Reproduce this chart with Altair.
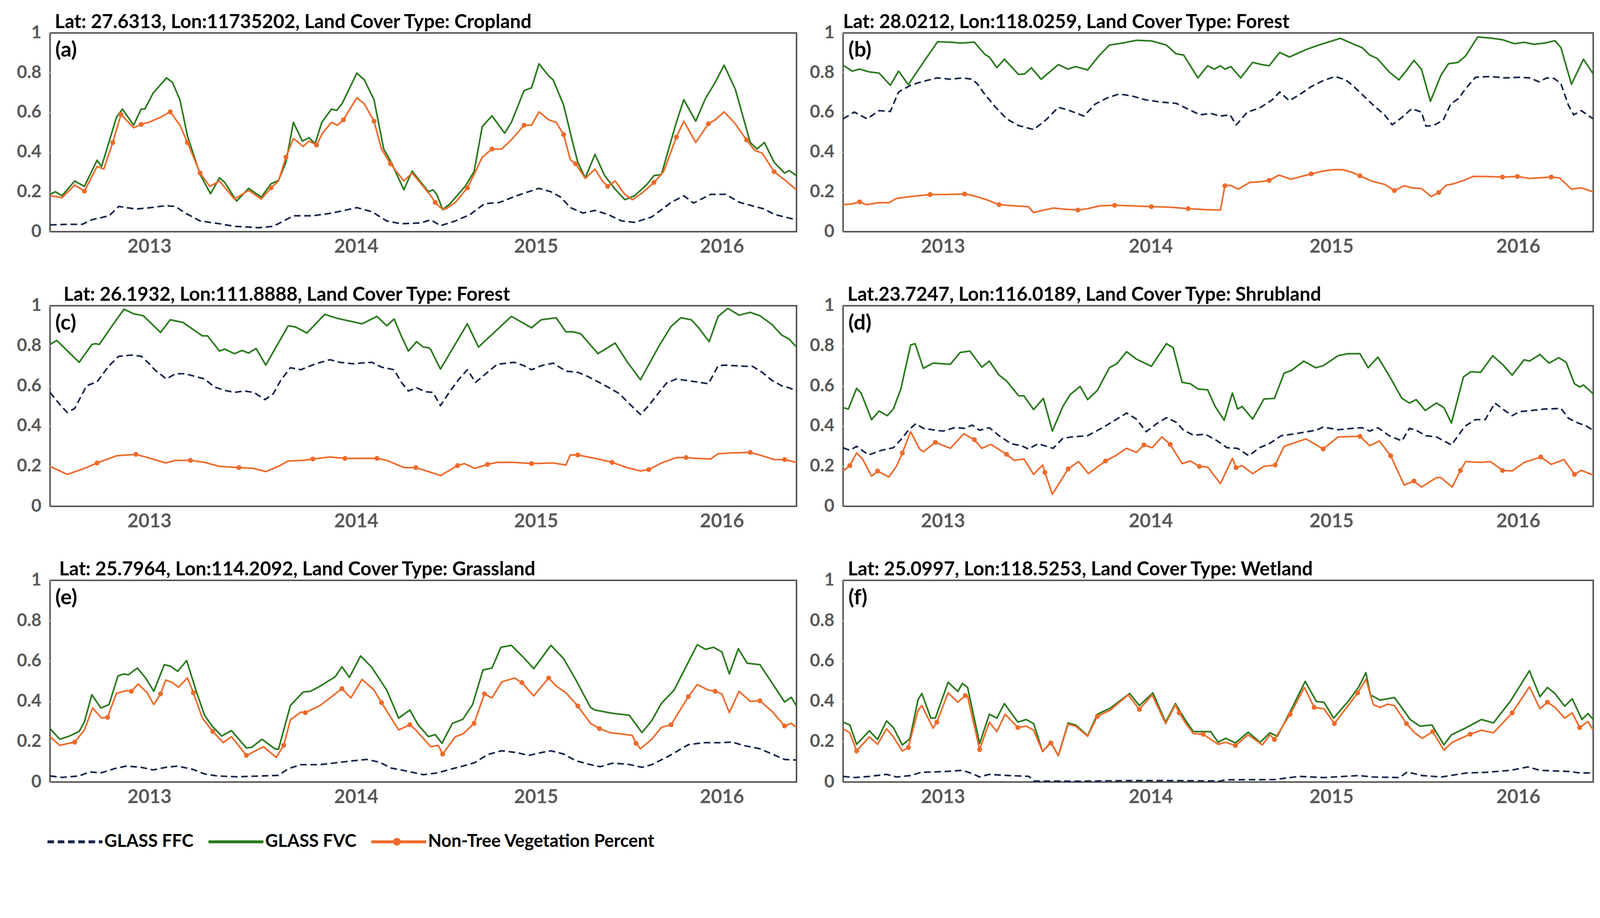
import altair as alt
import pandas as pd

SERIES = ["GLASS FFC", "GLASS FVC", "Non-Tree Vegetation Percent"]
COLORS = ["#15264a", "#2b7a1f", "#ee6b2c"]
DASHES = [[18, 10], [1, 0], [1, 0]]
YEAR_TICKS = [13.3, 41.0, 65.1, 90.0]
YEAR_LABELS = ["2013", "2014", "2015", "2016"]
Y_TICKS = [0, 0.2, 0.4, 0.6, 0.8, 1]
FONT = "Lato"

# ---------------- panel (a) ----------------
a_title = "Lat: 27.6313, Lon:11735202, Land Cover Type: Cropland"
a_fvc = [(0,.188),(0.7,.201),(1.6,.181),(3.3,.255),(4.6,.228),(6.3,.359),(6.9,.328),(8.9,.576),(9.7,.617),(11.2,.536),(12.2,.617),(12.7,.617),(13.8,.697),(15.6,.774),(16.4,.751),(17.4,.664),(18.4,.483),(20.1,.288),(21.5,.191),(22.7,.271),(23.4,.248),(25.0,.154),(26.6,.218),(28.3,.174),(29.6,.241),(30.6,.258),(31.6,.349),(32.6,.550),(33.8,.456),(34.7,.473),(35.5,.442),(36.4,.550),(37.7,.617),(38.4,.610),(39.1,.643),(41.1,.798),(42.1,.764),(43.4,.664),(44.7,.416),(45.7,.349),(47.4,.211),(48.5,.305),(49.7,.248),(50.7,.201),(51.3,.211),(51.8,.188),(52.6,.111),(53.6,.141),(55.6,.228),(56.8,.302),(57.9,.529),(59.2,.583),(60.9,.496),(61.8,.550),(63.5,.710),(64.5,.724),(65.5,.845),(66.8,.784),(67.4,.764),(68.8,.637),(70.1,.436),(70.7,.349),(71.7,.271),(73.0,.389),(74.3,.282),(75.7,.214),(77.0,.161),(78.3,.181),(79.9,.235),(80.9,.282),(81.9,.288),(83.9,.550),(84.9,.664),(86.5,.556),(87.8,.670),(89.1,.751),(90.3,.838),(91.8,.717),(93.8,.449),(94.7,.416),(95.7,.449),(97.0,.349),(98.4,.295),(99.0,.308),(100,.282)]
a_ntv = [(0,.181),(1.6,.171),(3.3,.235),(4.6,.204),(6.3,.328),(7.2,.315),(8.4,.449),(9.5,.590),(11.2,.523),(12.2,.540),(13.2,.550),(14.8,.576),(16.1,.603),(17.4,.536),(18.4,.449),(20.1,.295),(21.4,.228),(22.7,.255),(24.7,.164),(26.6,.208),(28.3,.164),(29.6,.221),(30.6,.255),(31.6,.375),(32.6,.469),(33.9,.429),(34.7,.456),(35.7,.436),(36.5,.496),(37.7,.550),(38.5,.536),(39.3,.563),(41.1,.674),(42.1,.643),(43.4,.556),(44.4,.416),(45.6,.342),(47.4,.255),(48.5,.295),(49.7,.241),(51.0,.181),(51.6,.147),(52.3,.121),(53.0,.114),(54.3,.147),(55.9,.221),(56.9,.295),(57.9,.375),(59.2,.416),(60.5,.416),(61.8,.462),(63.5,.536),(64.5,.536),(65.5,.603),(66.8,.563),(67.8,.550),(68.8,.489),(69.7,.362),(70.4,.342),(71.7,.268),(73.0,.315),(74.0,.255),(74.7,.228),(75.7,.255),(77.0,.188),(78.0,.161),(79.3,.194),(80.9,.248),(82.2,.302),(83.9,.476),(84.9,.556),(86.5,.449),(88.2,.543),(89.1,.563),(90.3,.603),(91.8,.543),(93.3,.462),(94.4,.409),(95.4,.395),(97.0,.302),(98.4,.261),(100,.210)]
a_ffc = [(0,.034),(2.3,.037),(4.3,.037),(5.6,.060),(7.9,.080),(9.2,.127),(11.5,.114),(13.5,.121),(15.5,.131),(16.8,.127),(18.1,.094),(20.1,.054),(22.7,.040),(24.7,.027),(28.0,.020),(29.9,.027),(31.3,.054),(32.6,.080),(35.2,.080),(37.8,.094),(41.1,.121),(43.1,.101),(45.1,.054),(47.0,.040),(49.7,.044),(51.0,.060),(52.3,.030),(54.3,.054),(56.3,.087),(58.2,.141),(60.2,.147),(62.5,.181),(64.1,.201),(65.5,.218),(67.1,.201),(68.4,.174),(69.7,.121),(71.4,.094),(73.0,.107),(74.7,.087),(76.6,.054),(78.3,.047),(80.6,.074),(83.2,.147),(84.9,.181),(86.2,.144),(88.5,.188),(90.5,.188),(92.4,.147),(94.4,.127),(95.7,.114),(97.0,.087),(98.4,.074),(100,.060)]
a_marks = [4.6,8.4,9.5,12.2,16.1,18.4,20.1,29.6,31.6,35.7,39.3,43.4,45.6,51.6,55.9,59.2,63.5,68.8,70.4,74.7,80.9,83.9,88.2,93.3,97.0]

# ---------------- panel (b) ----------------
b_title = "Lat: 28.0212, Lon:118.0259, Land Cover Type: Forest"
b_fvc = [(0,.838),(1.2,.808),(2.2,.818),(3.5,.804),(4.8,.798),(6.3,.737),(7.4,.808),(8.7,.740),(10.7,.852),(12.6,.956),(14.6,.953),(15.6,.949),(17.5,.954),(18.9,.892),(19.5,.879),(20.5,.825),(21.5,.868),(23.4,.791),(24.2,.794),(25.1,.825),(26.4,.767),(28.7,.841),(30.0,.818),(31.0,.831),(32.6,.814),(34.2,.889),(35.5,.939),(37.2,.949),(39.1,.963),(41.1,.960),(43.1,.939),(44.4,.895),(45.4,.889),(47.3,.774),(48.6,.835),(49.5,.818),(50.3,.835),(50.9,.818),(51.7,.831),(53.0,.774),(54.6,.852),(55.8,.841),(56.8,.835),(58.2,.902),(59.5,.879),(61.7,.916),(63.4,.939),(66.3,.973),(67.9,.946),(69.2,.926),(70.2,.889),(71.2,.872),(72.8,.804),(74.1,.764),(75.1,.811),(76.1,.862),(77.1,.818),(78.3,.656),(79.7,.787),(80.7,.845),(82.0,.852),(83.0,.885),(84.6,.980),(86.6,.973),(87.9,.966),(89.5,.946),(90.8,.953),(92.1,.943),(93.5,.949),(94.9,.961),(95.7,.926),(97.1,.742),(98.7,.868),(100,.794)]
b_ffc = [(0,.568),(1.5,.602),(3.2,.568),(4.8,.609),(6.3,.605),(7.4,.703),(9.0,.737),(10.7,.757),(12.6,.774),(14.3,.767),(15.9,.774),(17.2,.767),(17.9,.744),(18.8,.696),(20.2,.632),(21.8,.568),(23.4,.534),(25.4,.514),(27.0,.561),(28.7,.626),(30.0,.612),(32.1,.582),(33.6,.642),(35.2,.673),(36.8,.693),(38.5,.683),(40.4,.663),(42.4,.652),(44.4,.646),(45.7,.622),(47.6,.588),(49.0,.595),(50.3,.582),(51.6,.588),(52.4,.537),(53.9,.602),(55.5,.622),(57.2,.663),(58.2,.703),(59.5,.659),(61.1,.696),(62.4,.730),(64.0,.760),(65.6,.781),(67.0,.764),(67.9,.737),(69.6,.676),(70.9,.629),(72.2,.588),(73.2,.538),(74.5,.575),(75.8,.619),(77.1,.602),(77.7,.531),(78.7,.534),(80.0,.561),(81.0,.642),(82.0,.669),(83.0,.720),(84.3,.777),(86.3,.781),(88.2,.774),(90.2,.777),(91.5,.774),(92.8,.754),(93.8,.774),(94.8,.771),(95.7,.744),(96.7,.636),(97.4,.588),(98.4,.609),(100,.568)]
b_ntv = [(0,.136),(1.2,.140),(2.2,.150),(3.1,.136),(4.8,.146),(6.1,.146),(7.1,.167),(9.0,.177),(11.6,.187),(13.6,.187),(16.2,.190),(17.5,.180),(19.2,.160),(20.8,.136),(22.8,.130),(24.7,.126),(25.4,.096),(26.0,.102),(28.0,.119),(29.6,.113),(31.3,.109),(32.6,.116),(34.2,.130),(36.2,.133),(38.5,.130),(41.1,.126),(43.7,.123),(46.0,.116),(48.3,.111),(50.3,.109),(50.9,.231),(51.6,.234),(52.7,.214),(54.2,.248),(55.5,.251),(56.8,.258),(58.1,.285),(59.7,.264),(61.1,.278),(62.4,.291),(64.0,.305),(65.3,.312),(66.6,.312),(67.9,.298),(68.9,.281),(70.5,.254),(72.2,.238),(73.5,.207),(74.8,.231),(75.8,.221),(77.1,.217),(78.4,.177),(79.4,.197),(80.4,.234),(81.4,.241),(82.7,.258),(84.0,.278),(85.6,.278),(87.9,.275),(89.9,.278),(91.5,.268),(92.8,.271),(94.4,.275),(95.5,.271),(97.1,.214),(98.4,.221),(100,.200)]
b_marks = [2.2,11.6,16.2,20.8,31.3,36.2,41.1,46.0,50.9,56.8,62.4,68.9,73.5,79.4,87.9,89.9,94.4]

# ---------------- panel (c) ----------------
c_title = "Lat: 26.1932, Lon:111.8888, Land Cover Type: Forest"
c_fvc = [(0,.807),(0.9,.827),(3.9,.718),(5.6,.807),(6.1,.811),(6.6,.807),(8.2,.894),(9.9,.983),(11.2,.960),(12.5,.950),(14.8,.867),(16.1,.930),(17.8,.917),(20.4,.850),(21.1,.850),(22.7,.774),(23.4,.784),(24.7,.761),(25.7,.777),(26.6,.764),(27.6,.787),(28.9,.704),(31.9,.900),(32.9,.894),(34.4,.864),(36.8,.957),(38.5,.937),(41.8,.910),(43.8,.947),(45.1,.900),(46.1,.934),(47.0,.854),(48.0,.774),(49.1,.821),(50.0,.794),(50.7,.791),(51.0,.781),(52.3,.684),(55.9,.910),(57.4,.794),(61.8,.947),(64.5,.890),(65.8,.930),(67.8,.940),(69.1,.870),(70.1,.870),(71.1,.860),(73.4,.761),(75.7,.814),(77.3,.721),(79.1,.631),(81.6,.801),(83.2,.897),(84.5,.940),(85.9,.930),(86.8,.894),(88.3,.821),(89.5,.947),(90.8,.987),(92.3,.953),(93.8,.967),(95.1,.950),(96.7,.907),(98.0,.854),(99.0,.834),(100,.794)]
c_ffc = [(0,.568),(1.3,.508),(2.3,.468),(3.3,.488),(4.9,.601),(6.3,.621),(7.9,.701),(9.2,.748),(10.9,.754),(12.2,.748),(13.2,.714),(14.1,.678),(15.6,.635),(16.8,.661),(18.1,.661),(19.4,.648),(20.7,.635),(22.0,.595),(23.4,.578),(24.7,.568),(26.0,.575),(27.3,.568),(28.8,.532),(29.9,.561),(30.9,.628),(32.2,.691),(33.6,.681),(34.9,.701),(35.9,.714),(37.5,.731),(38.8,.718),(40.5,.711),(43.1,.718),(44.4,.694),(46.1,.681),(47.0,.621),(48.0,.575),(49.1,.591),(50.3,.571),(51.3,.568),(52.3,.502),(53.6,.575),(54.8,.635),(55.9,.681),(57.0,.618),(58.6,.668),(59.9,.708),(62.2,.718),(63.5,.701),(64.5,.681),(65.8,.701),(67.4,.714),(69.1,.674),(70.7,.668),(72.0,.648),(73.4,.621),(74.7,.595),(76.3,.561),(77.3,.522),(79.1,.458),(80.2,.502),(81.3,.555),(82.6,.615),(83.9,.635),(86.5,.621),(88.2,.611),(89.5,.701),(90.5,.704),(93.1,.698),(94.1,.698),(95.4,.668),(96.7,.628),(98.0,.601),(99.0,.591),(100,.575)]
c_ntv = [(0,.199),(2.3,.159),(4.6,.189),(6.3,.216),(8.9,.252),(11.5,.259),(12.8,.246),(15.5,.216),(16.8,.229),(18.8,.229),(20.7,.219),(22.7,.199),(25.3,.193),(27.3,.189),(28.9,.173),(30.6,.199),(31.9,.226),(33.9,.229),(35.2,.236),(37.5,.246),(39.5,.239),(41.8,.239),(43.8,.239),(45.1,.229),(47.4,.193),(49.0,.193),(50.7,.173),(52.3,.153),(54.6,.203),(55.5,.213),(56.9,.189),(58.6,.209),(59.9,.219),(62.2,.219),(64.5,.213),(67.4,.216),(69.1,.206),(69.7,.256),(70.7,.256),(73.4,.236),(75.3,.219),(77.3,.193),(79.1,.176),(80.2,.183),(81.9,.216),(83.9,.243),(85.2,.243),(86.5,.239),(88.5,.236),(89.5,.262),(91.1,.266),(93.8,.269),(95.4,.252),(97.0,.233),(98.4,.233),(100,.219)]
c_marks = [6.3,11.5,18.8,25.3,35.2,39.5,43.8,49.0,54.6,58.6,64.5,70.7,75.3,80.2,85.2,93.8,98.4]

# ---------------- panel (d) ----------------
d_title = "Lat.23.7247, Lon:116.0189, Land Cover Type: Shrubland"
d_fvc = [(0,.492),(0.7,.485),(1.8,.588),(2.4,.565),(3.8,.432),(4.8,.475),(5.9,.452),(6.7,.485),(7.7,.585),(9.0,.804),(9.6,.811),(10.7,.688),(12.0,.714),(14.3,.708),(15.6,.767),(16.9,.774),(18.5,.694),(19.5,.724),(20.8,.654),(21.8,.625),(23.4,.551),(24.1,.551),(25.4,.482),(26.7,.538),(27.9,.375),(29.3,.498),(30.3,.558),(31.6,.598),(32.6,.532),(33.9,.578),(35.5,.691),(36.5,.711),(37.8,.771),(39.1,.734),(41.1,.698),(43.1,.811),(44.0,.791),(45.2,.618),(46.3,.611),(47.3,.585),(48.6,.581),(49.6,.498),(50.8,.429),(51.9,.565),(52.6,.485),(53.2,.498),(54.6,.435),(56.1,.535),(57.5,.538),(58.8,.664),(59.8,.678),(61.4,.724),(63.0,.691),(64.0,.701),(66.0,.751),(67.3,.761),(68.9,.761),(70.0,.691),(71.3,.744),(72.8,.651),(74.5,.538),(75.5,.515),(76.4,.532),(77.6,.478),(79.1,.515),(80.1,.492),(81.1,.415),(82.7,.645),(83.7,.671),(85.0,.668),(86.6,.751),(88.0,.704),(89.2,.654),(90.8,.731),(91.5,.724),(92.9,.757),(94.1,.714),(95.4,.741),(96.4,.718),(97.5,.611),(98.2,.595),(98.7,.605),(100,.561)]
d_ffc = [(0,.292),(0.9,.279),(1.8,.299),(3.4,.256),(5.1,.279),(6.7,.292),(7.7,.332),(8.7,.379),(9.7,.412),(10.7,.389),(12.4,.379),(13.3,.375),(14.9,.392),(16.2,.389),(17.2,.405),(18.2,.379),(19.5,.392),(20.8,.352),(22.4,.312),(23.8,.302),(24.7,.286),(26.0,.312),(28.0,.289),(29.3,.339),(30.5,.346),(32.6,.352),(34.6,.392),(36.5,.435),(37.8,.465),(39.1,.435),(40.4,.372),(41.8,.412),(43.1,.442),(44.4,.419),(45.4,.379),(46.7,.355),(48.3,.359),(49.9,.326),(51.2,.292),(52.6,.289),(54.1,.252),(55.5,.292),(56.8,.312),(58.4,.352),(59.8,.359),(61.4,.369),(63.0,.379),(64.0,.395),(66.0,.382),(68.0,.389),(69.2,.392),(70.2,.375),(71.3,.392),(72.8,.352),(74.5,.326),(75.5,.389),(76.4,.379),(77.7,.352),(79.1,.346),(81.1,.306),(82.9,.399),(84.3,.432),(85.6,.432),(86.9,.515),(88.2,.478),(89.2,.452),(90.2,.472),(91.8,.478),(93.5,.485),(95.7,.488),(96.7,.439),(98.0,.415),(99.0,.402),(100,.379)]
d_ntv = [(0,.176),(0.9,.203),(1.8,.266),(2.6,.236),(3.8,.150),(4.6,.176),(6.1,.146),(7.1,.199),(7.9,.266),(9.0,.372),(10.2,.286),(10.7,.272),(12.3,.319),(14.3,.289),(16.1,.362),(17.5,.332),(18.5,.289),(19.7,.309),(21.8,.259),(22.8,.229),(24.1,.236),(25.4,.159),(26.6,.206),(26.9,.169),(27.9,.060),(30.0,.186),(31.4,.223),(32.7,.163),(35.0,.226),(36.3,.252),(37.8,.289),(39.1,.269),(40.1,.306),(41.2,.292),(42.5,.346),(43.6,.309),(45.2,.213),(46.3,.226),(47.5,.199),(48.6,.196),(50.3,.113),(51.9,.239),(52.4,.193),(53.2,.203),(54.6,.163),(56.1,.199),(57.6,.206),(58.8,.299),(61.7,.336),(64.0,.286),(66.0,.346),(68.9,.349),(70.2,.302),(71.5,.326),(73.0,.252),(74.8,.106),(76.1,.126),(77.1,.096),(79.1,.143),(79.7,.143),(81.2,.096),(82.3,.179),(83.0,.223),(85.0,.219),(86.3,.223),(87.9,.179),(89.2,.176),(90.8,.219),(93.0,.246),(94.4,.209),(96.1,.233),(97.5,.159),(98.4,.179),(100,.156)]
d_marks = [0.9,4.6,7.9,12.3,17.5,21.8,26.9,30.0,35.0,40.1,43.6,47.5,52.4,57.6,64.0,68.9,73.0,76.1,82.3,87.9,93.0,97.5]

# ---------------- panel (e) ----------------
e_title = "Lat: 25.7964, Lon:114.2092, Land Cover Type: Grassland"
e_fvc = [(0,.265),(1.3,.212),(2.6,.228),(3.9,.251),(4.6,.298),(5.6,.433),(6.8,.367),(7.9,.384),(9.1,.526),(9.9,.536),(10.5,.532),(11.7,.565),(12.8,.516),(13.9,.450),(15.3,.582),(16.1,.575),(17.1,.549),(18.3,.602),(19.7,.437),(20.7,.331),(21.7,.278),(23.0,.228),(24.3,.255),(26.3,.169),(27.0,.172),(28.4,.212),(30.1,.165),(30.6,.162),(32.2,.380),(33.9,.446),(34.9,.450),(36.2,.476),(38.2,.522),(39.1,.572),(40.1,.519),(41.6,.625),(43.1,.569),(45.1,.456),(46.7,.317),(48.2,.357),(49.3,.284),(50.7,.225),(51.6,.235),(52.5,.192),(53.9,.291),(55.3,.311),(56.6,.384),(58.0,.556),(59.2,.565),(60.4,.668),(61.8,.678),(63.5,.615),(64.8,.562),(67.1,.678),(68.8,.612),(70.4,.509),(72.4,.370),(73.0,.357),(75.3,.341),(77.6,.331),(79.3,.245),(80.6,.304),(81.9,.390),(83.6,.456),(86.7,.681),(87.8,.658),(88.9,.668),(90.0,.645),(91.0,.536),(92.2,.661),(93.4,.589),(95.1,.582),(98.4,.397),(99.3,.420),(100,.377)]
e_ntv = [(0,.225),(1.3,.182),(3.3,.198),(4.6,.258),(5.7,.367),(6.9,.317),(7.7,.321),(8.9,.440),(10.2,.453),(10.9,.450),(11.8,.486),(13.0,.443),(13.9,.384),(14.8,.437),(15.5,.506),(16.4,.493),(17.2,.470),(18.4,.516),(19.2,.443),(20.4,.317),(21.8,.251),(23.2,.195),(24.3,.225),(26.3,.132),(28.6,.175),(30.3,.122),(31.3,.182),(32.2,.308),(33.6,.347),(34.2,.344),(36.2,.380),(39.1,.463),(40.3,.417),(41.8,.509),(43.4,.456),(44.4,.394),(46.7,.258),(48.2,.284),(49.0,.258),(51.0,.175),(52.0,.182),(52.6,.139),(54.3,.225),(55.3,.238),(56.8,.291),(58.2,.437),(59.2,.417),(60.5,.496),(62.2,.516),(63.2,.493),(64.8,.427),(66.8,.516),(67.8,.476),(69.1,.443),(70.7,.377),(72.4,.291),(73.6,.265),(75.0,.245),(76.6,.238),(78.0,.231),(78.5,.192),(79.1,.165),(80.6,.212),(81.9,.271),(83.2,.284),(85.5,.423),(86.7,.483),(88.2,.456),(89.1,.450),(90.0,.437),(91.0,.344),(92.3,.450),(93.8,.400),(95.1,.403),(96.7,.351),(98.4,.278),(99.3,.291),(100,.271)]
e_ffc = [(0,.030),(1.6,.023),(3.9,.030),(5.3,.050),(6.9,.046),(8.6,.066),(10.2,.079),(12.2,.073),(13.8,.060),(15.5,.073),(17.1,.079),(19.1,.063),(20.7,.040),(22.4,.030),(25.0,.026),(28.3,.030),(30.6,.033),(31.9,.066),(33.6,.086),(36.2,.086),(39.1,.099),(40.8,.106),(42.4,.112),(44.1,.099),(45.7,.069),(48.0,.053),(50.0,.036),(52.0,.046),(53.6,.063),(55.3,.079),(56.9,.096),(58.6,.136),(60.5,.155),(62.5,.146),(64.1,.132),(65.8,.146),(67.1,.155),(68.8,.139),(70.4,.106),(72.4,.086),(73.7,.076),(75.3,.093),(77.3,.089),(79.3,.073),(80.6,.086),(82.9,.129),(85.5,.185),(87.5,.195),(89.8,.195),(91.4,.198),(92.8,.182),(95.1,.165),(96.7,.139),(98.4,.112),(100,.109)]
e_marks = [3.3,7.7,10.9,14.8,19.2,21.8,26.3,31.3,34.2,39.1,44.4,48.2,52.6,56.8,58.2,63.2,66.8,70.7,73.6,78.5,83.2,85.5,89.1,95.1,98.4]

# ---------------- panel (f) ----------------
f_title = "Lat: 25.0997, Lon:118.5253, Land Cover Type: Wetland"
f_fvc = [(0,.297),(0.9,.283),(1.8,.187),(3.5,.254),(4.6,.211),(5.8,.303),(6.7,.270),(7.9,.184),(8.9,.214),(10.0,.409),(10.5,.439),(11.7,.317),(12.3,.317),(14.0,.495),(15.3,.449),(15.9,.489),(16.6,.469),(18.2,.191),(19.5,.336),(20.5,.317),(21.5,.389),(23.3,.297),(24.4,.310),(25.4,.290),(26.6,.151),(27.7,.197),(28.7,.131),(30.0,.293),(31.0,.283),(32.6,.230),(33.9,.336),(35.6,.366),(38.2,.439),(39.5,.379),(41.3,.442),(43.0,.297),(44.3,.389),(45.7,.303),(46.7,.250),(49.0,.250),(50.0,.197),(51.0,.217),(52.3,.194),(54.0,.247),(55.6,.197),(56.9,.244),(57.9,.227),(59.8,.363),(61.6,.499),(63.1,.399),(64.1,.396),(65.4,.317),(67.4,.403),(68.7,.469),(69.7,.542),(70.3,.432),(71.6,.406),(72.6,.413),(73.5,.419),(74.6,.363),(75.6,.310),(76.9,.277),(78.5,.283),(80.1,.184),(81.1,.234),(83.1,.270),(85.1,.310),(86.7,.293),(89.0,.403),(91.5,.552),(92.9,.423),(93.9,.469),(94.9,.439),(96.2,.376),(97.2,.413),(98.5,.310),(99.3,.340),(100,.310)]
f_ntv = [(0,.264),(0.9,.244),(1.8,.154),(3.5,.224),(4.6,.187),(5.8,.264),(6.7,.224),(7.9,.154),(8.7,.171),(10.0,.356),(10.5,.379),(12.0,.267),(12.5,.297),(14.0,.442),(15.3,.396),(16.3,.429),(16.6,.425),(18.2,.161),(19.5,.297),(20.5,.250),(21.6,.336),(23.3,.270),(24.4,.277),(25.4,.257),(26.6,.151),(27.7,.194),(28.7,.131),(30.0,.287),(31.0,.277),(32.6,.227),(33.9,.326),(35.6,.356),(38.0,.432),(39.5,.360),(41.2,.432),(43.0,.290),(44.3,.383),(44.8,.343),(45.7,.290),(46.7,.240),(48.0,.237),(50.0,.187),(51.0,.197),(52.3,.181),(54.0,.234),(55.9,.184),(56.9,.234),(57.5,.211),(59.6,.336),(61.5,.469),(62.8,.370),(64.1,.363),(65.5,.290),(67.4,.383),(68.6,.442),(69.7,.509),(70.7,.383),(71.6,.370),(72.6,.386),(73.5,.379),(75.1,.290),(76.2,.244),(77.2,.217),(78.6,.250),(80.1,.158),(81.2,.197),(83.6,.237),(85.1,.257),(86.7,.244),(89.2,.343),(91.5,.472),(92.9,.363),(93.9,.396),(94.9,.370),(96.2,.317),(97.2,.343),(98.2,.270),(99.3,.300),(100,.257)]
f_ffc = [(0,.028),(1.5,.022),(3.5,.028),(5.8,.038),(7.1,.025),(9.0,.032),(10.4,.048),(13.6,.052),(15.9,.058),(17.2,.042),(18.2,.025),(19.5,.038),(22.1,.032),(24.8,.028),(25.4,.005),(31.3,.004),(37.9,.007),(44.4,.007),(50.3,.005),(51.0,.011),(57.5,.012),(60.8,.028),(64.1,.022),(68.7,.032),(70.6,.025),(74.2,.022),(75.2,.050),(77.2,.032),(79.8,.025),(83.1,.045),(85.7,.048),(89.0,.058),(91.3,.075),(92.9,.058),(96.9,.052),(98.2,.045),(100,.045)]
f_marks = [1.8,8.7,12.5,16.3,18.2,23.3,27.7,33.9,39.5,44.8,48.0,52.3,57.5,59.6,62.8,65.5,68.6,75.1,78.6,83.6,89.2,93.9,98.2]

PANELS = [
    dict(tag="(a)", title=a_title, ffc=a_ffc, fvc=a_fvc, ntv=a_ntv, marks=a_marks, dx=13, w=2036, h=542),
    dict(tag="(b)", title=b_title, ffc=b_ffc, fvc=b_fvc, ntv=b_ntv, marks=b_marks, dx=0, w=2046, h=542),
    dict(tag="(c)", title=c_title, ffc=c_ffc, fvc=c_fvc, ntv=c_ntv, marks=c_marks, dx=37, w=2036, h=547),
    dict(tag="(d)", title=d_title, ffc=d_ffc, fvc=d_fvc, ntv=d_ntv, marks=d_marks, dx=12, w=2046, h=547),
    dict(tag="(e)", title=e_title, ffc=e_ffc, fvc=e_fvc, ntv=e_ntv, marks=e_marks, dx=25, w=2036, h=550),
    dict(tag="(f)", title=f_title, ffc=f_ffc, fvc=f_fvc, ntv=f_ntv, marks=f_marks, dx=13, w=2046, h=550),
]

# x-axis label expression built from the tick list
mids = [(YEAR_TICKS[i] + YEAR_TICKS[i + 1]) / 2 for i in range(len(YEAR_TICKS) - 1)]
expr = f"'{YEAR_LABELS[-1]}'"
for m, lab in reversed(list(zip(mids, YEAR_LABELS[:-1]))):
    expr = f"datum.value < {m} ? '{lab}' : {expr}"

x_axis = alt.Axis(values=YEAR_TICKS, labelExpr=expr, title=None, grid=False, domain=False,
                  ticks=False, labelFont=FONT, labelFontSize=52, labelFontWeight="bold",
                  labelColor="#595959", labelPadding=16)
y_axis = alt.Axis(values=Y_TICKS, format="~g", title=None, grid=False, domain=False,
                  ticks=True, tickSize=6, tickColor="#cfcfcf", tickWidth=3,
                  labelFont=FONT, labelFontSize=48, labelFontWeight="bold",
                  labelColor="#595959", labelPadding=18, minExtent=110, maxExtent=110)
x_scale = alt.Scale(domain=[0, 100], nice=False, zero=False)
y_scale = alt.Scale(domain=[0, 1], nice=False, zero=True)

# legends are positioned relative to the data area of panel (a)
legend = alt.Legend(orient="none", legendX=-11, legendY=2177, direction="horizontal",
                    title=None, symbolType="M-1,0H5", symbolSize=2500, symbolStrokeWidth=8,
                    labelFont=FONT, labelFontSize=48, labelFontWeight="bold",
                    labelColor="black", labelOffset=101, columnPadding=24, labelLimit=1000,
                    padding=0)
dot_legend = alt.Legend(orient="none", legendX=935, legendY=2195, title=None,
                        symbolType="circle", symbolSize=450, symbolFillColor=COLORS[2],
                        symbolStrokeWidth=0, symbolOpacity=1, labelExpr="''", padding=0)
color_scale = alt.Scale(domain=SERIES, range=COLORS)
dash_scale = alt.Scale(domain=SERIES, range=DASHES)


def make_panel(p):
    rows = []
    for name, pts in zip(SERIES, [p["ffc"], p["fvc"], p["ntv"]]):
        for t, v in pts:
            rows.append({"t": t, "v": v, "series": name})
    df = pd.DataFrame(rows)

    # orange markers sit on vertices of the orange series
    ntv = p["ntv"]
    mk = []
    for m in p["marks"]:
        t, v = min(ntv, key=lambda q: abs(q[0] - m))
        mk.append({"t": t, "v": v, "mk": SERIES[2]})
    mdf = pd.DataFrame(mk)

    lines = alt.Chart(df).mark_line(strokeWidth=4.4, strokeJoin="round", strokeCap="butt").encode(
        x=alt.X("t:Q", scale=x_scale, axis=x_axis),
        y=alt.Y("v:Q", scale=y_scale, axis=y_axis),
        color=alt.Color("series:N", scale=color_scale, legend=legend, sort=SERIES),
        strokeDash=alt.StrokeDash("series:N", scale=dash_scale, legend=legend, sort=SERIES),
        order=alt.Order("t:Q"),
    )
    dots = alt.Chart(mdf).mark_circle(size=180, color=COLORS[2]).encode(
        x=alt.X("t:Q", scale=x_scale, axis=x_axis), y=alt.Y("v:Q", scale=y_scale, axis=y_axis),
        opacity=alt.Opacity("mk:O", scale=alt.Scale(range=[1]), legend=dot_legend))
    tag = alt.Chart(pd.DataFrame({"t": [0.7], "v": [0.965], "s": [p["tag"]]})).mark_text(
        align="left", baseline="top", font=FONT, fontSize=58, fontWeight="bold", color="black"
    ).encode(x=alt.X("t:Q", scale=x_scale, axis=x_axis),
             y=alt.Y("v:Q", scale=y_scale, axis=y_axis), text="s:N")

    return alt.layer(lines, dots, tag).properties(
        width=p["w"], height=p["h"],
        title=alt.TitleParams(p["title"], anchor="start", frame="group", offset=-22, dx=p["dx"],
                              font=FONT, fontSize=52, fontWeight="bold", color="black"),
    )


charts = [make_panel(p) for p in PANELS]
chart = alt.concat(*charts, columns=2, spacing={"row": 76, "column": 10}).properties(
    padding={"left": 16, "top": -49, "right": 5, "bottom": 5},
    background="white",
).configure_view(stroke="#4d4d4d", strokeWidth=4)

chart.save("out.html", embed_options={"renderer": "svg", "actions": False})
